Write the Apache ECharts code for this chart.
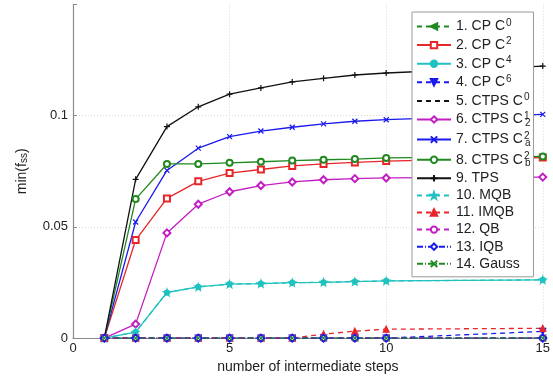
<!DOCTYPE html>
<html><head><meta charset="utf-8">
<script src="https://cdn.jsdelivr.net/npm/echarts@6/dist/echarts.min.js"></script>
<style>html,body{margin:0;padding:0;background:#fff}#c{width:553px;height:379px}</style>
</head><body><div id="c"></div>
<script>
// x positions (number of intermediate steps)
const steps = [1, 2, 3, 4, 5, 6, 7, 8, 9, 10, 15];
// series values
const cpC0    = [0, 0, 0, 0, 0, 0, 0, 0, 0, 0, 0];
const cpC2    = [0, 0.0441, 0.0628, 0.0705, 0.0742, 0.0758, 0.0774, 0.0783, 0.0790, 0.0796, 0.0812];
const cpC4    = [0, 0.0027, 0.0205, 0.0230, 0.0243, 0.0245, 0.0249, 0.0251, 0.0254, 0.0257, 0.0262];
const cpC6    = [0, 0, 0, 0, 0, 0, 0, 0, 0, 0, 0.0030];
const ctpsC0  = [0, 0, 0, 0, 0, 0, 0, 0, 0, 0, 0];
const ctpsC21 = [0, 0.0063, 0.0473, 0.0602, 0.0658, 0.0686, 0.0702, 0.0712, 0.0717, 0.0720, 0.0724];
const ctpsCa2 = [0, 0.0522, 0.0754, 0.0854, 0.0906, 0.0931, 0.0948, 0.0963, 0.0975, 0.0982, 0.1006];
const ctpsCb2 = [0, 0.0625, 0.0783, 0.0783, 0.0788, 0.0793, 0.0798, 0.0802, 0.0805, 0.0810, 0.0817];
const tps     = [0, 0.0714, 0.0951, 0.1040, 0.1097, 0.1125, 0.1152, 0.1168, 0.1183, 0.1192, 0.1223];
const mqb     = [0, 0.0027, 0.0205, 0.0230, 0.0243, 0.0245, 0.0249, 0.0251, 0.0254, 0.0257, 0.0262];
const imqb    = [0, 0, 0, 0, 0, 0, 0, 0.0018, 0.0031, 0.0040, 0.0044];
const qb      = [0, 0, 0, 0, 0, 0, 0, 0, 0, 0, 0];
const iqb     = [0, 0, 0, 0, 0, 0, 0, 0, 0, 0, 0];
const gauss   = [0, 0, 0, 0, 0, 0, 0, 0, 0, 0, 0];
// tick labels
const xTicks = [0, 5, 10, 15];
const yTicks = [0, 0.05, 0.1];

const G = '#1f8a1f', R = '#e8262a', C = '#1fc2bf', B = '#1a1aee', K = '#111111', M = '#c21ec2';
const PLUS = 'path://M5,0L5,10M0,5L10,5';
const CROSS = 'path://M0,0L10,10M10,0L0,10';
const STAR = 'path://M5,0L6.2,3.6L10,3.6L6.9,5.9L8.1,9.5L5,7.3L1.9,9.5L3.1,5.9L0,3.6L3.8,3.6Z';

const names = ['1. CP C0','2. CP C2','3. CP C4','4. CP C6','5. CTPS C0','6. CTPS C21','7. CTPS Ca2','8. CTPS Cb2','9. TPS','10. MQB','11. IMQB','12. QB','13. IQB','14. Gauss'];
const rich = {
  t: {fontSize: 14, fontFamily: 'Liberation Sans', color: '#222', lineHeight: 17},
  sup: {fontSize: 10, fontFamily: 'Liberation Sans', color: '#222', verticalAlign: 'top', lineHeight: 17, padding: [0, 0, 0, 1]},
  sup0: {fontSize: 10, fontFamily: 'Liberation Sans', color: '#222', verticalAlign: 'top', lineHeight: 17, width: 0, padding: [0, 0, 0, 1]},
  sub: {fontSize: 10, fontFamily: 'Liberation Sans', color: '#222', verticalAlign: 'bottom', lineHeight: 12, padding: [0, 0, 0, 1]}
};
const labelMap = {
  '1. CP C0': '{t|1. CP C}{sup|0}',
  '2. CP C2': '{t|2. CP C}{sup|2}',
  '3. CP C4': '{t|3. CP C}{sup|4}',
  '4. CP C6': '{t|4. CP C}{sup|6}',
  '5. CTPS C0': '{t|5. CTPS C}{sup|0}',
  '6. CTPS C21': '{t|6. CTPS C}{sup0|1}{sub|2}',
  '7. CTPS Ca2': '{t|7. CTPS C}{sup0|2}{sub|a}',
  '8. CTPS Cb2': '{t|8. CTPS C}{sup0|2}{sub|b}',
  '9. TPS': '{t|9. TPS}',
  '10. MQB': '{t|10. MQB}',
  '11. IMQB': '{t|11. IMQB}',
  '12. QB': '{t|12. QB}',
  '13. IQB': '{t|13. IQB}',
  '14. Gauss': '{t|14. Gauss}'
};

function mk(name, vals, color, lineType, symbol, opts) {
  opts = opts || {};
  return {
    name: name, type: 'line',
    data: steps.map((s, i) => [s, vals[i]]),
    symbol: symbol, symbolSize: opts.size || 6,
    symbolRotate: opts.rot || 0,
    lineStyle: {color: color, width: 1.3, type: lineType},
    itemStyle: {color: color, borderColor: color, borderWidth: 1.2, opacity: opts.hide ? 0 : 1},
    animation: false
  };
}

const series = [
  mk(names[0], cpC0, G, [5, 4], 'triangle', {rot: 90}),
  mk(names[1], cpC2, R, 'solid', 'emptyRect'),
  mk(names[2], cpC4, C, 'solid', 'circle', {size: 5}),
  mk(names[3], cpC6, B, [5, 4], 'triangle', {rot: 180}),
  mk(names[4], ctpsC0, K, [5, 4], 'circle', {hide: true}),
  mk(names[5], ctpsC21, M, 'solid', 'emptyDiamond', {size: 7}),
  mk(names[6], ctpsCa2, B, 'solid', CROSS, {size: 5}),
  mk(names[7], ctpsCb2, G, 'solid', 'emptyCircle', {size: 6}),
  mk(names[8], tps, K, 'solid', PLUS, {size: 6}),
  mk(names[9], mqb, C, [5, 4], STAR, {size: 7}),
  mk(names[10], imqb, R, [5, 4], 'triangle', {size: 6}),
  mk(names[11], qb, M, [5, 4], 'emptyCircle', {size: 6}),
  mk(names[12], iqb, B, [6, 2, 1, 2], 'emptyDiamond', {size: 7}),
  mk(names[13], gauss, G, [6, 2, 1, 2], CROSS, {size: 5})
];

const chart = echarts.init(document.getElementById('c'), null, {renderer: 'canvas'});
chart.setOption({
  backgroundColor: '#fff',
  animation: false,
  grid: {left: 73, right: 10, top: 4.5, bottom: 37},
  xAxis: {
    type: 'value', min: 0, max: 15, interval: 5,
    name: 'number of intermediate steps', nameLocation: 'middle', nameGap: 16,
    nameTextStyle: {fontSize: 14, fontFamily: 'Liberation Sans', color: '#222'},
    axisLine: {onZero: false, lineStyle: {color: '#8a8a8a', width: 1.2}},
    axisTick: {inside: true, length: 4, lineStyle: {color: '#8a8a8a'}},
    axisLabel: {fontSize: 13, fontFamily: 'Liberation Sans', color: '#222', margin: 4,
      formatter: v => xTicks.indexOf(v) >= 0 ? String(v) : ''},
    splitLine: {show: true, showMinLine: false, lineStyle: {color: '#d8d8d8', type: [1, 2]}}
  },
  yAxis: {
    type: 'value', min: 0, max: 0.15, interval: 0.05,
    name: 'min(f{s|ss})', nameLocation: 'middle', nameGap: 44, nameRotate: 90,
    nameTextStyle: {fontSize: 14, fontFamily: 'Liberation Sans', color: '#222',
      rich: {s: {fontSize: 10, fontFamily: 'Liberation Sans', color: '#222', verticalAlign: 'bottom', lineHeight: 12}}},
    axisLine: {show: true, lineStyle: {color: '#8a8a8a', width: 1.2}},
    axisTick: {inside: true, length: 4, lineStyle: {color: '#8a8a8a'}},
    axisLabel: {fontSize: 13, fontFamily: 'Liberation Sans', color: '#222', margin: 5,
      formatter: v => { const i = yTicks.findIndex(t => Math.abs(t - v) < 1e-9); return i >= 0 ? String(yTicks[i]) : ''; }},
    splitLine: {show: true, showMinLine: false, showMaxLine: false, lineStyle: {color: '#d8d8d8', type: [1, 2]}}
  },
  legend: {
    orient: 'vertical', left: 412, top: 12,
    data: names,
    backgroundColor: '#fff', borderColor: '#999', borderWidth: 1,
    padding: [6, 3, 6, 4], itemGap: 3.1, itemWidth: 34, itemHeight: 8,
    formatter: n => labelMap[n],
    textStyle: {rich: rich}
  },
  series: series
});
</script></body></html>
